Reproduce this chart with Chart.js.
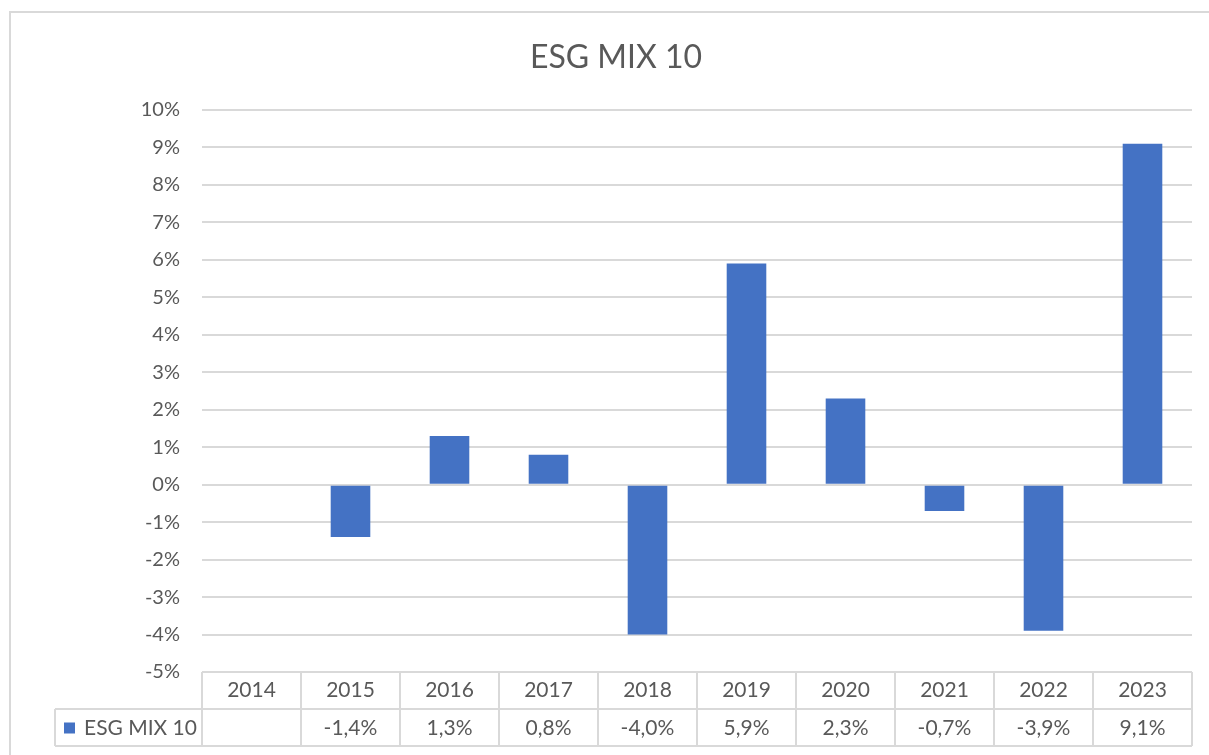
<!DOCTYPE html>
<html>
<head>
<meta charset="utf-8">
<script src="https://cdn.jsdelivr.net/npm/chart.js@4/dist/chart.umd.min.js"></script>
<style>
html,body{margin:0;padding:0;background:#ffffff;}
#wrap{position:relative;width:1209px;height:755px;}
</style>
</head>
<body>
<div id="wrap"><canvas id="c" width="1209" height="755"></canvas></div>
<script>
// ---- data ----
const chartTitle = 'ESG MIX 10';
const seriesName = 'ESG MIX 10';
const categories = ['2014','2015','2016','2017','2018','2019','2020','2021','2022','2023'];
const values = [null, -1.4, 1.3, 0.8, -4.0, 5.9, 2.3, -0.7, -3.9, 9.1];
const yMin = -5;
const yMax = 10;
const yStep = 1;

// ---- style ----
const BAR_COLOR = '#4472C4';
const TEXT_COLOR = '#595959';
const GRID_COLOR = '#d9d9d9';
const FONT = 'Lato, "Open Sans", sans-serif';

function fmtPct(v){ return v.toFixed(1).replace('.', ',') + '%'; }

const tablePlugin = {
  id: 'dataTable',
  beforeDraw(chart){
    const ctx = chart.ctx;
    ctx.save();
    ctx.strokeStyle = GRID_COLOR;
    ctx.lineWidth = 2;
    // outer chart frame
    ctx.beginPath();
    ctx.moveTo(10, 760);
    ctx.lineTo(10, 12);
    ctx.lineTo(1215, 12);
    ctx.stroke();
    ctx.restore();
  },
  afterDraw(chart){
    const ctx = chart.ctx;
    const xs = chart.scales.x;
    const area = chart.chartArea;
    const n = categories.length;
    const catW = (area.right - area.left) / n;
    const top = area.bottom;
    const row1 = top + 37;
    const row2 = row1 + 37;
    const legLeft = 55;
    ctx.save();
    ctx.strokeStyle = GRID_COLOR;
    ctx.lineWidth = 2;
    ctx.beginPath();
    ctx.moveTo(area.left, top); ctx.lineTo(area.right, top);
    ctx.moveTo(legLeft, row1); ctx.lineTo(area.right, row1);
    ctx.moveTo(legLeft, row2); ctx.lineTo(area.right, row2);
    ctx.moveTo(legLeft, row1); ctx.lineTo(legLeft, row2);
    for (let i = 0; i <= n; i++) {
      const bx = Math.round(xs.getPixelForValue(i) - catW / 2);
      ctx.moveTo(bx, top); ctx.lineTo(bx, row2);
    }
    ctx.stroke();
    // legend key
    ctx.fillStyle = BAR_COLOR;
    ctx.fillRect(64, (row1 + row2) / 2 - 5, 11, 11);
    ctx.fillStyle = TEXT_COLOR;
    ctx.font = '21px ' + FONT;
    ctx.textBaseline = 'middle';
    ctx.textAlign = 'left';
    ctx.fillText(seriesName, 84, (row1 + row2) / 2 + 1);
    ctx.textAlign = 'center';
    for (let i = 0; i < n; i++) {
      if (values[i] === null) continue;
      ctx.fillText(fmtPct(values[i]), xs.getPixelForValue(i), (row1 + row2) / 2 + 1);
    }
    ctx.restore();
  }
};

new Chart(document.getElementById('c'), {
  type: 'bar',
  data: {
    labels: categories,
    datasets: [{
      label: seriesName,
      data: values,
      backgroundColor: BAR_COLOR,
      barPercentage: 0.4,
      categoryPercentage: 1.0
    }]
  },
  options: {
    responsive: false,
    animation: false,
    devicePixelRatio: 1,
    layout: { padding: { left: 40, right: 17, top: 0, bottom: 0 } },
    plugins: {
      legend: { display: false },
      tooltip: { enabled: false },
      title: {
        display: true,
        text: chartTitle,
        color: TEXT_COLOR,
        font: { family: FONT, size: 32, weight: 'normal' },
        padding: { top: 38, bottom: 33.6 }
      }
    },
    scales: {
      x: {
        offset: true,
        grid: { display: false, drawTicks: false },
        border: { display: false },
        ticks: {
          color: TEXT_COLOR,
          font: { family: FONT, size: 21 },
          padding: 6,
          maxRotation: 0
        },
        afterFit(scale){ scale.height = 83; }
      },
      y: {
        min: yMin,
        max: yMax,
        grid: { color: GRID_COLOR, lineWidth: 2, drawTicks: false },
        border: { display: false },
        ticks: {
          stepSize: yStep,
          color: TEXT_COLOR,
          font: { family: FONT, size: 20 },
          padding: 22,
          callback: (v) => v + '%'
        },
        afterFit(scale){ scale.width = 162; }
      }
    }
  },
  plugins: [tablePlugin]
});
</script>
</body>
</html>
